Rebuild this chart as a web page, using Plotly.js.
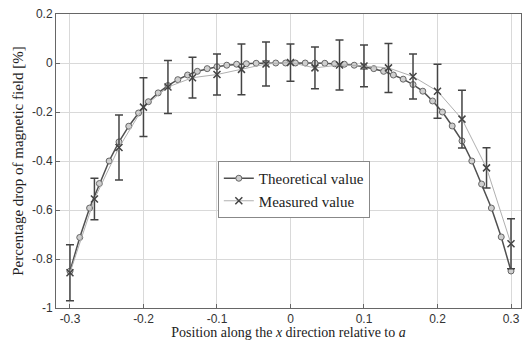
<!DOCTYPE html>
<html>
<head>
<meta charset="utf-8">
<script src="https://cdn.plot.ly/plotly-3.0.1.min.js"></script>
<style>html,body{margin:0;padding:0;background:#fff;}#chart{width:522px;height:340px;}</style>
</head>
<body>
<div id="chart"></div>
<script>
// Theoretical curve
var theoryX = [-0.3,-0.2867,-0.2733,-0.26,-0.2467,-0.2333,-0.22,-0.2067,-0.1933,-0.18,-0.1667,-0.1533,-0.14,-0.1267,-0.1133,-0.1,-0.0867,-0.0733,-0.06,-0.0467,-0.0333,-0.02,-0.0067,
               0.0067,0.02,0.0333,0.0467,0.06,0.0733,0.0867,0.1,0.1133,0.1267,0.14,0.1533,0.1667,0.18,0.1933,0.2067,0.22,0.2333,0.2467,0.26,0.2733,0.2867,0.3];
var theoryY = [-0.850,-0.712,-0.592,-0.492,-0.400,-0.322,-0.258,-0.204,-0.158,-0.122,-0.092,-0.068,-0.049,-0.034,-0.023,-0.015,-0.009,-0.005,-0.003,-0.001,-0.0005,0,0,
               0,0,-0.0005,-0.001,-0.003,-0.005,-0.009,-0.015,-0.023,-0.034,-0.049,-0.066,-0.088,-0.115,-0.155,-0.200,-0.257,-0.318,-0.400,-0.494,-0.592,-0.710,-0.849];
// Measured values with error bars
var measX = [-0.3,-0.2667,-0.2333,-0.2,-0.1667,-0.1333,-0.1,-0.0667,-0.0333,0,0.0333,0.0667,0.1,0.1333,0.1667,0.2,0.2333,0.2667,0.3];
var measY = [-0.856,-0.555,-0.345,-0.180,-0.098,-0.060,-0.047,-0.026,-0.004,0.002,-0.020,-0.008,-0.012,-0.020,-0.055,-0.115,-0.229,-0.428,-0.738];
var measErr = [0.114,0.085,0.133,0.120,0.108,0.083,0.084,0.104,0.090,0.076,0.085,0.102,0.085,0.100,0.092,0.110,0.118,0.082,0.102];
var xTicks = [-0.3,-0.2,-0.1,0,0.1,0.2,0.3];
var xTickText = ["-0.3","-0.2","-0.1","0","0.1","0.2","0.3"];
var yTicks = [0.2,0,-0.2,-0.4,-0.6,-0.8,-1];
var yTickText = ["0.2","0","-0.2","-0.4","-0.6","-0.8","-1"];

var serif = "Liberation Serif, Times New Roman, serif";
var sans = "Liberation Sans, Arial, sans-serif";

var traces = [
  {
    x: theoryX, y: theoryY, type: "scatter", mode: "lines+markers",
    name: "Theoretical value",
    line: {color: "#505050", width: 1.5},
    marker: {symbol: "circle", size: 6, color: "#cfcfcf", line: {color: "#666666", width: 1}}
  },
  {
    x: measX, y: measY, type: "scatter", mode: "lines+markers",
    name: "Measured value",
    line: {color: "#b0b0b0", width: 1},
    marker: {symbol: "x-thin-open", size: 7, color: "#444444", line: {color: "#444444", width: 1.5}},
    error_y: {type: "data", array: measErr, visible: true, color: "#444444", thickness: 1.5, width: 4}
  }
];

var axisCommon = {
  showline: true, mirror: true, linecolor: "#666666", linewidth: 1,
  ticks: "inside", ticklen: 4, tickcolor: "#666666",
  showgrid: true, gridcolor: "#d9d9d9", gridwidth: 1,
  zeroline: false,
  tickfont: {family: sans, size: 12, color: "#333333"}
};

var layout = {
  width: 522, height: 340,
  margin: {l: 56, r: 1, t: 14, b: 32},
  paper_bgcolor: "#ffffff", plot_bgcolor: "#ffffff",
  showlegend: true,
  legend: {
    x: 0.348, y: 0.5, xanchor: "left", yanchor: "top",
    bgcolor: "#ffffff", bordercolor: "#888888", borderwidth: 1,
    font: {family: serif, size: 15, color: "#222222"},
    tracegroupgap: 0, itemwidth: 30
  },
  xaxis: Object.assign({}, axisCommon, {
    range: [-0.319, 0.3136],
    tickvals: xTicks, ticktext: xTickText,
    ticklabelstandoff: 0,
    title: {text: "Position along the <i>x</i> direction relative to <i>a</i>", font: {family: serif, size: 14, color: "#222222"}, standoff: 0}
  }),
  yaxis: Object.assign({}, axisCommon, {
    range: [-1, 0.2],
    tickvals: yTicks, ticktext: yTickText,
    title: {text: "Percentage drop of magnetic field [%]", font: {family: serif, size: 15, color: "#222222"}, standoff: 4}
  })
};

Plotly.newPlot("chart", traces, layout, {displayModeBar: false, staticPlot: true});
</script>
</body>
</html>
